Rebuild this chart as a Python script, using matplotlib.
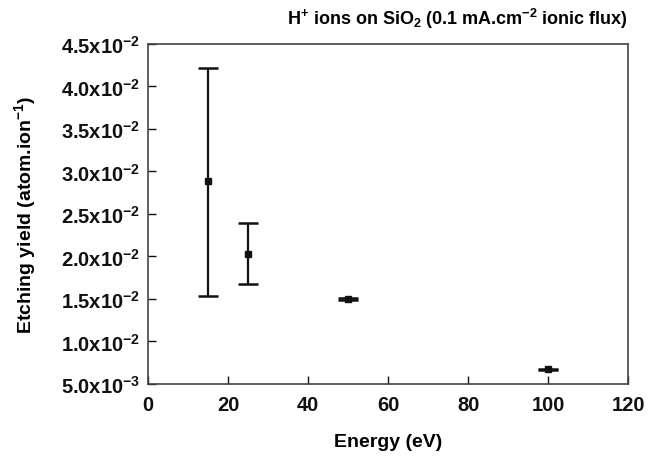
import matplotlib
matplotlib.use("Agg")
import matplotlib.pyplot as plt

# data
energy = [15, 25, 50, 100]
yield_val = [0.0289, 0.0203, 0.0150, 0.0067]
err_low = [0.0135, 0.0036, 0.00008, 0.00008]
err_high = [0.0133, 0.0036, 0.00008, 0.00008]

x_ticks = [0, 20, 40, 60, 80, 100, 120]
y_ticks = [0.005, 0.010, 0.015, 0.020, 0.025, 0.030, 0.035, 0.040, 0.045]
y_labels = ["5.0x10$^{-3}$", "1.0x10$^{-2}$", "1.5x10$^{-2}$", "2.0x10$^{-2}$",
            "2.5x10$^{-2}$", "3.0x10$^{-2}$", "3.5x10$^{-2}$", "4.0x10$^{-2}$",
            "4.5x10$^{-2}$"]

plt.rcParams["font.family"] = "Liberation Sans"
plt.rcParams["font.weight"] = "bold"
plt.rcParams["mathtext.fontset"] = "custom"
plt.rcParams["mathtext.rm"] = "Liberation Sans:bold"
plt.rcParams["mathtext.it"] = "Liberation Sans:bold"
plt.rcParams["mathtext.bf"] = "Liberation Sans:bold"
plt.rcParams["mathtext.default"] = "rm"

fig = plt.figure(figsize=(6.59, 4.77), dpi=100)
ax = fig.add_axes([0.225, 0.193, 0.728, 0.713])

ax.errorbar(energy, yield_val, yerr=[err_low, err_high], fmt="s", color="#111111",
            markersize=4, elinewidth=1.6, capsize=7, capthick=1.8)

ax.set_xlim(0, 120)
ax.set_ylim(0.005, 0.045)
ax.set_xticks(x_ticks)
ax.set_yticks(y_ticks)
ax.set_yticklabels(y_labels)
ax.tick_params(direction="in", length=6, width=1, labelsize=14.5, pad=6, colors="#111111")
ax.tick_params(axis="x", pad=8)
for s in ax.spines.values():
    s.set_linewidth(1.2)
    s.set_color("#444444")

ax.set_xlabel("Energy (eV)", fontsize=14, fontweight="bold", labelpad=14)
ax.set_ylabel("Etching yield (atom.ion$^{-1}$)", fontsize=14, fontweight="bold", labelpad=16)
ax.set_title("H$^{+}$ ions on SiO$_{2}$ (0.1 mA.cm$^{-2}$ ionic flux)", fontsize=13,
             fontweight="bold", loc="right", pad=14)

fig.savefig("out.png", dpi=100)
